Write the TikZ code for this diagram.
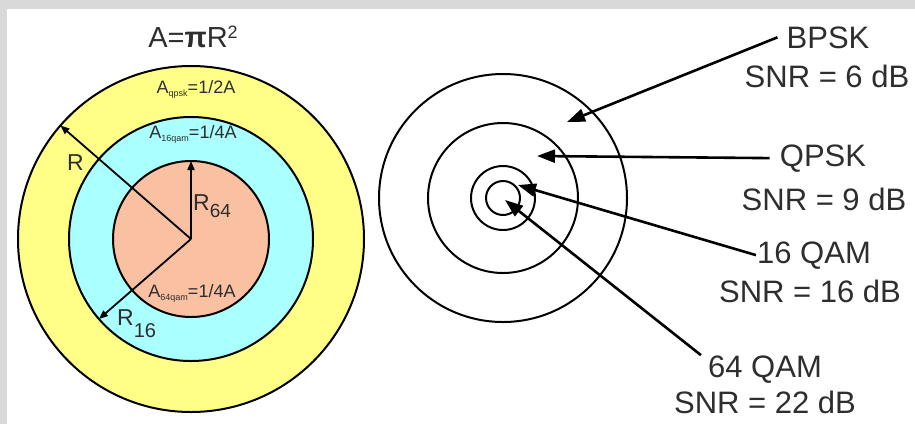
\documentclass[tikz,border=0pt]{standalone}
\usepackage{fontspec}
\setmainfont{Liberation Sans}
\usetikzlibrary{arrows.meta}
\definecolor{ylw}{HTML}{FFFF88}
\definecolor{cyn}{HTML}{AAFFFF}
\definecolor{slm}{HTML}{FAC0A2}
\definecolor{txt}{HTML}{2E2E2E}
\definecolor{bord}{HTML}{D9D9D9}
\begin{document}
\begin{tikzpicture}[x=1pt,y=-1pt,
  ring/.style={circle, draw=black, line width=2pt, inner sep=0pt, outer sep=0pt},
  lbl/.style={inner sep=0pt, text=txt, font=\fontsize{31}{31}\selectfont, anchor=base},
  small/.style={inner sep=0pt, text=txt, font=\fontsize{18}{18}\selectfont, anchor=base},
  rlab/.style={inner sep=0pt, text=txt, font=\fontsize{23}{23}\selectfont, anchor=base west},
  bigarrow/.style={line width=2.6pt, -{Triangle[length=18pt,width=13pt]}},
  smallarrow/.style={line width=1.8pt, -{Triangle[length=9pt,width=7pt]}},
]
\useasboundingbox (0,0) rectangle (915,424);
\fill[bord] (0,0) rectangle (915,424);
\fill[white] (7,9) rectangle (915,424);

% left diagram
\coordinate (c) at (191,239);
\node[ring, fill=ylw, minimum size=346pt] (outer) at (c) {};
\node[ring, fill=cyn, minimum size=244pt] (mid) at (c) {};
\node[ring, fill=slm, minimum size=156pt] (inner) at (c) {};
\draw[smallarrow] (c) -- (outer.139);
\draw[smallarrow] (c) -- (inner.90);
\draw[smallarrow] (c) -- (mid.221);

\node[lbl, font=\fontsize{29}{29}\selectfont] (area) at (193,47) {A=\textbf{π}R\raisebox{9pt}{\fontsize{18}{18}\selectfont 2}};
\node[small] (aq) at (196,93) {A\raisebox{-3pt}{\fontsize{9}{9}\selectfont qpsk}=1/2A};
\node[small] (a16) at (193,138) {A\raisebox{-3pt}{\fontsize{9}{9}\selectfont 16qam}=1/4A};
\node[small] (a64) at (192,297) {A\raisebox{-3pt}{\fontsize{9}{9}\selectfont 64qam}=1/4A};
\node[rlab] (rl) at (67,170) {R};
\node[rlab] (r64) at (193,210) {R\raisebox{-7pt}{\fontsize{19}{19}\selectfont 64}};
\node[rlab] (r16) at (117,325) {R\raisebox{-12pt}{\fontsize{20}{20}\selectfont 16}};

% right diagram
\coordinate (rc) at (503,198);
\node[ring, minimum size=248pt] (c1) at (rc) {};
\node[ring, minimum size=150pt] (c2) at (rc) {};
\node[ring, minimum size=64pt] (c3) at (rc) {};
\node[ring, minimum size=34pt] (c4) at (rc) {};

\node[lbl] (bpsk) at (828,48) {BPSK};
\node[lbl] (bpsksnr) at (827,87) {SNR = 6 dB};
\node[lbl] (qpsk) at (823,166) {QPSK};
\node[lbl] (qpsksnr) at (824,210) {SNR = 9 dB};
\node[lbl] (q16) at (814,263) {16 QAM};
\node[lbl] (q16snr) at (810,302) {SNR = 16 dB};
\node[lbl] (q64) at (765,377) {64 QAM};
\node[lbl] (q64snr) at (765,413) {SNR = 22 dB};

\coordinate (tb) at (567,122);
\coordinate (tq) at (537,156);
\coordinate (t16) at (518,185);
\coordinate (t64) at (505,200);
\draw[bigarrow] ([xshift=-9pt]bpsk.west) -- (tb);
\draw[bigarrow] ([xshift=-10pt]qpsk.west) -- (tq);
\draw[bigarrow] ([xshift=-1pt]q16.west) -- (t16);
\draw[bigarrow] ([xshift=-7pt]q64.north west) -- (t64);
\end{tikzpicture}
\end{document}
